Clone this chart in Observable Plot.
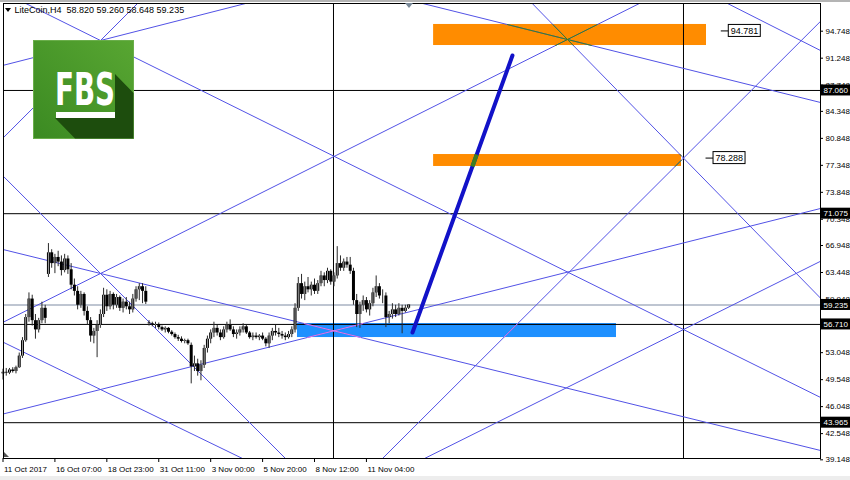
<!DOCTYPE html>
<html><head><meta charset="utf-8">
<script src="https://cdn.jsdelivr.net/npm/d3@7"></script>
<script src="https://cdn.jsdelivr.net/npm/@observablehq/plot@0.6"></script>
<style>
html,body{margin:0;padding:0;background:#fff;}
#wrap{position:relative;width:850px;height:480px;overflow:hidden;background:#fff;}
#wrap > svg.chart{position:absolute;left:0;top:0;}
#topstrip{position:absolute;left:0;top:0;width:850px;height:2px;background:#b4b4b4;}
#botstrip{position:absolute;left:0;top:476px;width:850px;height:4px;background:#ededed;}
#logo{position:absolute;left:33px;top:40px;}
#marks{position:absolute;left:0;top:0;pointer-events:none;}
</style></head><body>
<div id="wrap"></div>
<script>
// ---- candles (LiteCoin, H4), bar index 0..125 ----
const open  = [50.3,50.5,50.4,50.8,50.6,51.1,52.6,54.6,57.6,60.0,57.2,56.0,57.2,58.8,63.2,66.0,64.6,65.4,64.8,63.7,65.2,63.8,61.8,61.0,59.2,60.6,58.4,57.2,55.2,55.8,56.6,58.0,60.5,59.0,60.6,59.2,60.2,58.8,59.6,59.0,58.6,60.0,61.2,61.6,61.0,56.9,56.8,56.6,56.7,56.3,56.0,56.2,55.7,55.4,55.0,54.8,54.5,54.6,54.0,51.2,51.6,50.6,51.4,53.6,54.8,55.6,56.2,55.6,55.0,56.0,56.6,56.0,55.4,55.6,56.0,56.4,55.6,55.0,55.2,55.0,55.2,54.8,54.2,55.2,55.8,55.6,55.4,55.2,55.0,55.4,56.0,58.8,62.0,60.6,61.6,61.2,61.8,61.0,62.0,63.0,62.4,63.6,62.2,63.0,64.6,64.0,64.8,64.4,63.6,59.8,58.0,59.2,59.8,58.6,59.4,60.8,61.6,60.4,60.4,57.6,58.0,58.6,58.0,58.8,58.4,58.82];
const high  = [50.9,51.0,51.0,51.1,51.3,53.0,55.0,58.0,60.8,60.5,58.0,57.5,59.6,59.2,67.2,66.4,65.8,66.2,65.6,65.8,65.6,64.6,62.6,61.6,61.0,60.8,59.0,57.6,56.2,57.2,58.6,61.4,61.2,61.0,60.8,60.6,60.4,60.0,60.2,59.6,60.6,61.6,62.0,62.0,61.6,57.2,57.0,57.0,56.9,56.5,56.4,56.3,55.9,55.6,55.3,55.1,54.8,54.8,54.3,52.6,52.2,52.0,54.0,55.2,56.0,57.0,56.6,56.0,56.4,57.0,57.3,56.4,56.0,56.4,56.8,56.6,55.8,55.6,55.6,55.4,55.6,55.0,55.6,56.2,56.6,56.2,55.8,55.6,55.8,56.4,59.4,62.8,63.2,62.2,62.8,62.2,62.6,62.4,63.6,63.4,64.0,63.8,63.4,66.8,65.6,65.2,65.4,65.4,64.0,60.6,59.6,60.4,60.2,59.8,61.4,63.0,62.0,61.2,60.8,58.4,59.4,59.2,59.4,59.2,59.2,59.26];
const low   = [49.5,50.0,50.2,50.4,50.3,51.0,52.3,54.4,57.0,56.5,54.8,55.6,56.8,56.8,62.8,64.0,63.3,64.2,63.0,63.4,63.2,61.2,60.4,58.6,58.8,57.8,56.6,54.4,54.2,52.4,56.2,57.6,58.4,58.6,58.6,58.8,58.4,58.2,58.6,58.0,58.2,59.6,59.8,59.4,59.3,56.5,56.4,56.2,56.0,55.8,55.6,55.5,55.2,54.8,54.5,54.3,54.2,54.0,49.0,50.6,50.0,49.4,51.0,53.0,54.2,55.0,55.2,54.6,54.8,55.6,55.8,55.0,54.8,55.2,55.6,55.4,54.8,54.6,54.8,54.6,54.6,53.8,53.6,54.6,55.2,55.0,54.8,54.6,54.8,55.0,55.6,58.4,60.0,59.8,60.8,60.4,60.6,60.6,61.6,61.6,62.0,61.8,61.6,62.6,63.6,63.6,64.0,63.2,59.2,56.3,56.2,58.4,58.2,57.8,59.0,60.2,60.0,59.4,56.3,56.8,57.4,57.6,57.8,55.5,58.2,58.648];
const close = [50.5,50.4,50.8,50.6,51.1,52.6,54.6,57.6,60.0,57.2,56.0,57.2,58.8,57.5,66.0,64.6,65.4,64.8,63.7,65.2,63.8,61.8,61.0,59.2,60.6,58.4,57.2,55.2,55.8,56.6,58.0,60.5,59.0,60.6,59.2,60.2,58.8,59.6,59.0,58.6,60.0,61.2,61.6,61.0,59.6,56.8,56.6,56.7,56.3,56.0,56.2,55.7,55.4,55.0,54.8,54.5,54.6,54.2,51.2,51.6,50.6,51.4,53.6,54.8,55.6,56.2,55.6,55.0,56.0,56.6,56.0,55.4,55.6,56.0,56.4,55.6,55.0,55.2,55.0,55.2,54.8,54.2,55.2,55.8,55.6,55.4,55.2,55.0,55.4,56.0,58.8,62.0,60.6,61.6,61.2,61.8,61.0,62.0,63.0,62.4,63.6,62.2,63.0,64.6,64.0,64.8,64.4,63.6,59.8,58.0,59.2,59.8,58.6,59.4,60.8,61.6,60.4,60.4,57.6,58.0,58.6,58.0,58.8,58.4,58.82,59.235];

// ---- axes ----
const xTickIdx = [0,16,32,48,64,80,96,112];
const xTickLabels = ["11 Oct 2017","16 Oct 07:00","18 Oct 23:00","31 Oct 11:00","3 Nov 00:00","5 Nov 20:00","8 Nov 12:00","11 Nov 04:00"];
const yTicks = [94.748,91.248,87.748,84.348,80.848,77.348,73.848,70.348,66.948,63.448,59.948,56.448,53.048,49.548,46.048,42.548,39.148];

// ---- horizontal / vertical objects ----
const levelPrices = [87.060,71.075,56.710,43.965];
const bidPrice = 59.235;
const vLineIdx = [101.85,209.71];

// ---- thin trend / fan lines (two anchor points each: bar index, price) ----
const lineI1 = [30.05,30.05,30.05,30.05,30.05,30.05,30.05,30.05,173.96,173.96,209.71,209.71,223.3];
const lineP1 = [93.54,93.54,93.54,63.32,63.32,63.32,48.27,48.27,93.67,93.67,78.288,56.05,98.34];
const lineI2 = [74.73,209.71,41.45,173.96,251.93,87.06,251.93,73.81,251.93,209.71,116.95,129.9,251.93];
const lineP2 = [98.34,56.05,98.34,93.67,40.36,39.32,71.75,39.32,85.50,78.288,39.32,39.32,92.24];

// ---- rectangles ----
const rectI1 = [132.7,132.7,90.75];
const rectI2 = [216.8,209.1,189.06];
const rectP1 = [95.62,78.75,56.83];
const rectP2 = [92.89,77.20,55.01];
const rectFill = ["#ff8c00","#ff8c00","#1e90ff"];

// ---- thick trend line ----
const trendI = [126.2,157.0];
const trendP = [55.66,91.6];

// ---- price tags ----
const tagIdx = [221.2,216.5];
const tagPrice = [94.781,78.288];

const header = "LiteCoin,H4  58.820 59.260 58.648 59.235";

// ---------------------------------------------------------
const W = 850, H = 480;
const mL = 3, mR = 30, mT = 3, mB = 22;
const X0 = 0.154, X1 = 251.93, Y0 = 39.32, Y1 = 98.34;
const pxPerI = (W - mL - mR) / (X1 - X0);
const pxPerP = (H - mT - mB) / (Y1 - Y0);

const bars = open.map((o, i) => ({i, o, h: high[i], l: low[i], c: close[i], up: close[i] >= o}));

function clipSeg(s, rx1, rx2, ry1, ry2) {
  let t0 = 0, t1 = 1;
  const dx = s.x2 - s.x1, dy = s.y2 - s.y1;
  const p = [-dx, dx, -dy, dy], q = [s.x1 - rx1, rx2 - s.x1, s.y1 - ry1, ry2 - s.y1];
  for (let k = 0; k < 4; k++) {
    if (p[k] === 0) { if (q[k] < 0) return null; }
    else {
      const t = q[k] / p[k];
      if (p[k] < 0) { if (t > t1) return null; if (t > t0) t0 = t; }
      else { if (t < t0) return null; if (t < t1) t1 = t; }
    }
  }
  return {x1: s.x1 + t0 * dx, y1: s.y1 + t0 * dy, x2: s.x1 + t1 * dx, y2: s.y1 + t1 * dy};
}

// extend each line through its two anchors, then clip to the plot frame
const lines = lineI1.map((a, k) => {
  const s = (lineP2[k] - lineP1[k]) / (lineI2[k] - a);
  return clipSeg({x1: -10, y1: lineP1[k] + s * (-10 - a), x2: 265, y2: lineP1[k] + s * (265 - a)}, X0, X1, Y0, Y1);
}).filter(d => d);
const trend = [{x1: trendI[0], y1: trendP[0], x2: trendI[1], y2: trendP[1]}];

const rects = rectI1.map((a, k) => ({x1: a, x2: rectI2[k], y1: Math.min(rectP1[k], rectP2[k]), y2: Math.max(rectP1[k], rectP2[k]), fill: rectFill[k]}));
const greenThin = [], pinkThin = [], greenThick = [];
rects.forEach((r, k) => {
  lines.forEach(l => { const c = clipSeg(l, r.x1, r.x2, r.y1, r.y2); if (c) (k < 2 ? greenThin : pinkThin).push(c); });
  if (k < 2) trend.forEach(l => { const c = clipSeg(l, r.x1, r.x2, r.y1, r.y2); if (c) greenThick.push(c); });
});

const levelLabels = levelPrices.map(p => ({p, t: p.toFixed(3)})).concat([{p: bidPrice, t: bidPrice.toFixed(3)}]);
const tags = tagIdx.map((x, k) => ({x, p: tagPrice[k], t: tagPrice[k].toFixed(3)}));
const font = "Liberation Sans, Arial, sans-serif";
const seg = {x1: "x1", y1: "y1", x2: "x2", y2: "y2"};

const chart = Plot.plot({
  width: W, height: H,
  marginLeft: mL, marginRight: mR, marginTop: mT, marginBottom: mB,
  x: {domain: [X0, X1], axis: null},
  y: {domain: [Y0, Y1], axis: null},
  style: {background: "transparent", fontFamily: font, overflow: "visible"},
  marks: [
    Plot.rect(rects, {x1: "x1", x2: "x2", y1: "y1", y2: "y2", fill: "fill"}),
    Plot.ruleY(levelPrices, {stroke: "#000", strokeWidth: 1}),
    Plot.ruleY([bidPrice], {stroke: "#a9b2c2", strokeWidth: 1.5}),
    Plot.ruleX(vLineIdx, {stroke: "#000", strokeWidth: 1}),
    Plot.link(lines, {...seg, stroke: "#5252e6", strokeWidth: 1}),
    Plot.link(greenThin, {...seg, stroke: "#3f7f1f", strokeWidth: 1}),
    Plot.link(pinkThin, {...seg, stroke: "#e07ae8", strokeWidth: 1}),
    // candles
    Plot.ruleX(bars, {x: "i", y1: "l", y2: "h", stroke: "#2a2a2a", strokeWidth: 1}),
    Plot.ruleX(bars, {x: "i", y1: "o", y2: "c", stroke: "#000", strokeWidth: 3}),
    Plot.ruleX(bars.filter(d => d.up), {x: "i", y1: "o", y2: "c", stroke: "#a0a0a0", strokeWidth: 1}),
    // thick line
    Plot.link(trend, {...seg, stroke: "#1212c8", strokeWidth: 4, strokeLinecap: "round"}),
    Plot.link(greenThick, {...seg, stroke: "#3f7f1f", strokeWidth: 4}),
    // price tags
    Plot.link(tags, {x1: "x", x2: d => d.x + 8 / pxPerI, y1: "p", y2: "p", stroke: "#000", strokeWidth: 1}),
    Plot.rect(tags, {x1: d => d.x + 8 / pxPerI, x2: d => d.x + 40 / pxPerI, y1: d => d.p - 6 / pxPerP, y2: d => d.p + 6 / pxPerP, fill: "#fff", stroke: "#000", strokeWidth: 1}),
    Plot.text(tags, {x: d => d.x + 8 / pxPerI, y: "p", text: "t", textAnchor: "start", dx: 2, fontSize: 9, fill: "#000"}),
    // frame & axes
    Plot.frame({stroke: "#000", strokeWidth: 1}),
    Plot.ruleY(yTicks, {x1: X1, x2: X1 + 3 / pxPerI, stroke: "#000"}),
    Plot.text(yTicks, {x: X1, y: d => d, text: d => d.toFixed(3), textAnchor: "start", dx: 5, fontSize: 8, fill: "#000"}),
    Plot.rect(levelLabels, {x1: X1 + 0.2 / pxPerI, x2: X1 + 30 / pxPerI, y1: d => d.p - 5.5 / pxPerP, y2: d => d.p + 5.5 / pxPerP, fill: "#000"}),
    Plot.text(levelLabels, {x: X1, y: "p", text: "t", textAnchor: "start", dx: 3, fontSize: 8, fill: "#fff"}),
    Plot.ruleX(xTickIdx, {y1: Y0, y2: Y0 + 4 / pxPerP, dy: 4, stroke: "#000"}),
    Plot.text(xTickIdx, {x: d => d, y: Y0, text: (d, i) => xTickLabels[i], textAnchor: "start", dx: 1, dy: 11, fontSize: 8, fill: "#000"}),
    Plot.text([header], {frameAnchor: "top-left", text: d => d, dx: 11, dy: 3, fontSize: 9, fill: "#000", textAnchor: "start", lineAnchor: "top"})
  ]
});
chart.classList.add("chart");

const wrap = document.getElementById("wrap");
wrap.appendChild(chart);
wrap.insertAdjacentHTML("beforeend", `
<div id="topstrip"></div><div id="botstrip"></div>
<svg id="marks" width="850" height="480">
  <polygon points="5,8 11,8 8,12" fill="#000"/>
  <polygon points="405,3 413,3 409,8" fill="#7a8a99"/>
  <polygon points="4,452 4,457 9,457" fill="#555"/>
</svg>
<svg id="logo" width="101" height="99" viewBox="0 0 101 99">
  <defs><linearGradient id="lg" x1="0" y1="1" x2="1" y2="0">
    <stop offset="0" stop-color="#3b8a22"/><stop offset="1" stop-color="#58a632"/></linearGradient></defs>
  <rect x="0.5" y="0.5" width="100" height="98" fill="url(#lg)" stroke="#6aae4a" stroke-width="1"/>
  <polygon points="22,78 42,98.5 100.5,98.5 100.5,53 82,34 82,78" fill="#1d4d0d"/>
  <text x="52" y="65" text-anchor="middle" font-family="DejaVu Sans Condensed, DejaVu Sans" font-weight="bold" font-size="45" fill="#fff" textLength="60" lengthAdjust="spacingAndGlyphs">FBS</text>
  <rect x="23" y="72" width="59" height="6" fill="#fff"/>
</svg>`);
</script>
</body></html>
